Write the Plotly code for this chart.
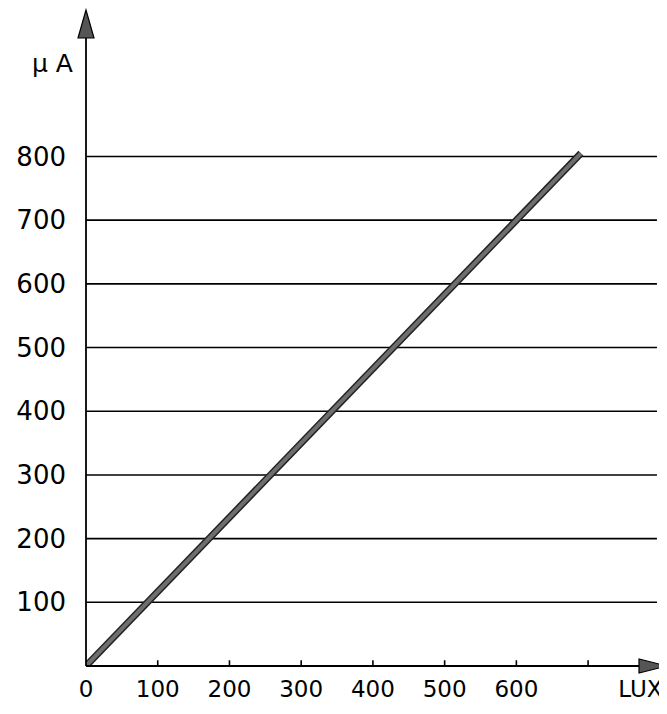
import plotly.graph_objects as go

# data
lux = [0, 690]
microamp = [0, 805]

x_ticks = [0, 100, 200, 300, 400, 500, 600]
x_tick_marks = [100, 200, 300, 400, 500, 600, 700]
y_ticks = [100, 200, 300, 400, 500, 600, 700, 800]

X_MAX = 810
Y_MAX = 1030
FONT = "DejaVu Sans"

fig = go.Figure()

# curve: dark outline + grey core
fig.add_trace(go.Scatter(x=lux, y=microamp, mode="lines",
                         line=dict(color="#222222", width=7), hoverinfo="skip"))
fig.add_trace(go.Scatter(x=lux, y=microamp, mode="lines",
                         line=dict(color="#6e6e6e", width=4), hoverinfo="skip"))

shapes = []
# horizontal grid lines
for v in y_ticks:
    shapes.append(dict(type="line", xref="x", yref="y", x0=0, x1=796, y0=v, y1=v,
                       line=dict(color="black", width=1.6), layer="below"))
# x tick marks crossing the axis
for v in x_tick_marks:
    shapes.append(dict(type="line", xref="x", yref="y", x0=v, x1=v, y0=-9, y1=9,
                       line=dict(color="black", width=1.6)))
# axes
shapes.append(dict(type="line", xref="paper", yref="paper", x0=0, x1=0, y0=0, y1=0.97,
                   line=dict(color="black", width=1.8)))
shapes.append(dict(type="line", xref="paper", yref="paper", x0=0, x1=0.97, y0=0, y1=0,
                   line=dict(color="black", width=1.8)))
# arrow heads
shapes.append(dict(type="path", xref="paper", yref="paper", xsizemode="pixel", ysizemode="pixel",
                   xanchor=0, yanchor=1, path="M 0 0 L -8 -28 L 8 -28 Z",
                   fillcolor="#555555", line=dict(color="black", width=1.2)))
shapes.append(dict(type="path", xref="paper", yref="paper", xsizemode="pixel", ysizemode="pixel",
                   xanchor=1, yanchor=0, path="M 0 0 L -28 -7 L -28 7 Z",
                   fillcolor="#555555", line=dict(color="black", width=1.2)))

# the page body adds an 8px margin, so the figure is drawn 8px smaller
fig.update_layout(
    width=659, height=706,
    margin=dict(l=78, r=0, t=2, b=48, autoexpand=False),
    paper_bgcolor="white", plot_bgcolor="white",
    showlegend=False,
    shapes=shapes,
    font=dict(family=FONT, size=22, color="black"),
    xaxis=dict(range=[0, X_MAX], showgrid=False, zeroline=False, showline=False,
               tickmode="array", tickvals=x_ticks + [773],
               ticktext=[str(v) for v in x_ticks] + ["LUX"],
               tickfont=dict(size=23),
               ticks="", ticklabelstandoff=7, automargin=False, fixedrange=True),
    yaxis=dict(range=[0, Y_MAX], showgrid=False, zeroline=False, showline=False,
               tickmode="array", tickvals=y_ticks,
               ticktext=[str(v) for v in y_ticks],
               tickfont=dict(size=26),
               ticks="", ticklabelstandoff=19, automargin=False, fixedrange=True),
    annotations=[dict(text="μ A", xref="paper", yref="paper", x=-0.057, y=0.918,
                      xanchor="center", yanchor="middle", showarrow=False,
                      font=dict(family=FONT, size=25, color="black"))],
)

fig.write_html("out.html")
